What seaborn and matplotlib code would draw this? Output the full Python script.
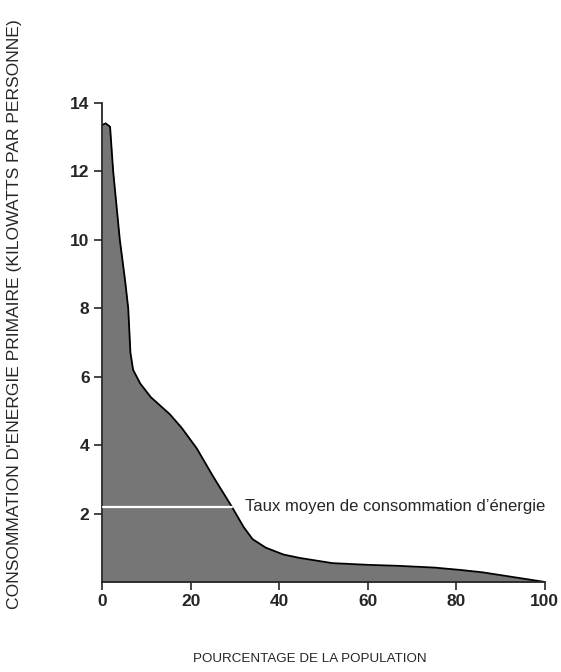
import matplotlib
matplotlib.use("Agg")
import matplotlib.pyplot as plt
import seaborn as sns
import pandas as pd

# Data
population_pct = [0, 0.8, 1.8, 2.5, 4, 5.2, 5.9, 6.4, 7.0, 8.6, 11, 15.3, 18, 21.4,
                  25, 29.3, 32, 34, 37, 41, 44.7, 52, 60, 67, 75, 81, 86, 90, 95, 100]
energy_kw = [13.35, 13.4, 13.3, 12, 10, 8.8, 8, 6.7, 6.2, 5.8, 5.4, 4.9, 4.5, 3.9,
             3.1, 2.2, 1.6, 1.25, 1.0, 0.8, 0.7, 0.55, 0.5, 0.47, 0.42, 0.35, 0.28, 0.2, 0.1, 0]
mean_rate = 2.2
mean_end_pct = 29.4
x_ticks = [0, 20, 40, 60, 80, 100]
y_ticks = [2, 4, 6, 8, 10, 12, 14]

df = pd.DataFrame({'pct': population_pct, 'kw': energy_kw})

sns.set_style("ticks")
plt.rcParams['font.family'] = ['Liberation Sans', 'DejaVu Sans']

fig = plt.figure(figsize=(5.61, 6.72), dpi=100)
ax = fig.add_axes([0.182, 0.134, 0.789, 0.713])

ax.fill_between(df['pct'], df['kw'], 0, color='#767676', linewidth=0, zorder=1)
sns.lineplot(data=df, x='pct', y='kw', color='black', linewidth=1.3, ax=ax, zorder=2)
ax.plot([0.3, mean_end_pct], [mean_rate, mean_rate], color='white', linewidth=1.6, zorder=3)
ax.text(32.3, mean_rate, "Taux moyen de consommation d\u2019énergie", fontsize=12,
        va='center', ha='left')

ax.set_xlim(0, 100)
ax.set_ylim(0, 14)
ax.set_xticks(x_ticks)
ax.set_yticks(y_ticks)
ax.tick_params(axis='both', direction='out', length=6, width=1.2, labelsize=12.5, pad=3)
for lbl in ax.get_xticklabels() + ax.get_yticklabels():
    lbl.set_fontweight('bold')

sns.despine(ax=ax)
ax.spines['left'].set_linewidth(1.3)
ax.spines['bottom'].set_linewidth(1.3)

ax.set_xlabel("POURCENTAGE DE LA POPULATION", fontsize=9.6)
ax.set_ylabel("CONSOMMATION D'ENERGIE PRIMAIRE (KILOWATTS PAR PERSONNE)", fontsize=12.6)
ax.xaxis.set_label_coords(0.47, -0.148)
ax.yaxis.set_label_coords(-0.18, 0.56)

fig.savefig("out.png", dpi=100)
